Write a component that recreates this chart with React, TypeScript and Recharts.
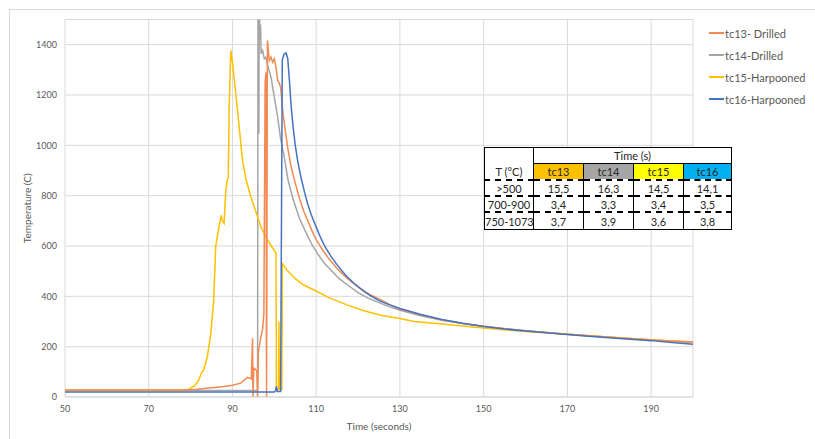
import React from 'react';
import { LineChart, Line, XAxis, YAxis, CartesianGrid, Legend } from 'recharts';

// ---- series data (time in seconds, temperature in °C) ----
const tc13Time = [50, 78, 81, 85, 88, 90, 92, 93.6, 94.5, 94.8, 94.9, 95.1, 95.8, 96.0, 96.2, 96.8, 97.2, 97.5, 97.8, 98.0, 98.15, 98.35, 98.8, 99.2, 99.6, 100, 100.4, 100.8, 101.1, 101.5, 102, 102.6, 103.3, 104, 105, 106, 107, 108, 109, 110, 111.5, 113, 115, 117.5, 120, 122.5, 125, 127.5, 130, 135, 140, 145, 150, 160, 170, 180, 190, 200];
const tc13Temp = [28, 28, 30, 37, 42, 47, 55, 78, 72, 233, 0, 115, 105, 0, 180, 240, 270, 330, 1250, 1290, 0, 1417, 1337, 1350, 1330, 1344, 1311, 1258, 1250, 1231, 1139, 1060, 980, 915, 850, 790, 740, 700, 660, 625, 585, 550, 510, 470, 438, 410, 390, 368, 350, 327, 307, 292, 281, 263, 249, 237, 226, 219];

const tc14Time = [50, 96.0, 96.1, 96.2, 96.3, 96.4, 96.55, 96.7, 96.85, 97.2, 97.6, 98.0, 98.4, 99.2, 100, 100.8, 101.5, 102.3, 103.3, 104.5, 106, 107.5, 109, 110.5, 112, 113.5, 115.5, 117.5, 120, 122.5, 125, 127.5, 130, 135, 140, 145, 150, 160, 170, 180, 190, 200];
const tc14Temp = [26, 26, 1600, 1600, 1046, 1600, 1420, 1480, 1364, 1377, 1344, 1350, 1317, 1271, 1192, 1112, 1025, 960, 860, 785, 710, 655, 605, 565, 530, 505, 470, 445, 415, 392, 375, 358, 345, 323, 305, 292, 281, 263, 249, 237, 226, 217];

const tc15Time = [50, 78, 79.5, 81, 82, 82.6, 83.2, 84, 84.8, 85.5, 86.0, 86.8, 87.3, 87.6, 88.0, 88.4, 88.8, 89.0, 89.2, 89.6, 90.0, 91.2, 92.4, 93.3, 94.4, 96.8, 98.4, 100.4, 100.5, 101.0, 101.1, 101.2, 101.8, 101.9, 103, 105, 107, 109.5, 113, 117.5, 121, 125.4, 130, 133.4, 140, 150, 160, 170, 180, 190, 200];
const tc15Temp = [28, 28, 30, 45, 70, 95, 110, 160, 250, 380, 600, 676, 722, 700, 690, 820, 865, 870, 1140, 1377, 1330, 1140, 940, 860, 795, 676, 623, 571, 30, 30, 300, 30, 30, 531, 505, 470, 445, 425, 395, 365, 345, 325, 312, 300, 290, 274, 260, 249, 238, 227, 219];

const tc16Time = [50, 100.0, 100.3, 100.5, 100.7, 101.5, 101.9, 102.3, 102.8, 103.2, 103.6, 104.0, 104.5, 105.0, 105.6, 106.4, 107.2, 108.0, 108.8, 110.0, 111.0, 112.0, 113.5, 115.0, 117.0, 119.0, 121.0, 123.0, 125.0, 127.5, 130, 135, 140, 145, 150, 155, 160, 165, 170, 175, 180, 185, 190, 195, 200];
const tc16Temp = [20, 20, 25, 42, 22, 22, 1340, 1362, 1367, 1345, 1258, 1160, 1070, 1000, 935, 870, 815, 765, 725, 675, 635, 600, 560, 525, 485, 452, 425, 402, 383, 366, 352, 328, 308, 293, 280, 270, 262, 255, 248, 241, 235, 229, 224, 217, 210];

// ---- axis ticks ----
const xTicks = [50, 70, 90, 110, 130, 150, 170, 190];
const yTicks = [0, 200, 400, 600, 800, 1000, 1200, 1400];

// ---- legend / series names ----
const seriesNames = ['tc13- Drilled', 'tc14-Drilled', 'tc15-Harpooned', 'tc16-Harpooned'];
const seriesColors = ['#F28A52', '#A5A5A5', '#FFC000', '#4472C4'];

// ---- inset table ----
const tableTitle = 'Time (s)';
const tableCorner = 'T (°C)';
const tableHeaders = ['tc13', 'tc14', 'tc15', 'tc16'];
const tableHeaderColors = ['#FFC000', '#A6A6A6', '#FFFF00', '#00B0F0'];
const tableRowLabels = ['>500', '700-900', '750-1073'];
const tableRow1 = ['15,5', '16,3', '14,5', '14,1'];
const tableRow2 = ['3,4', '3,3', '3,4', '3,5'];
const tableRow3 = ['3,7', '3,9', '3,6', '3,8'];

const zip = (ts: number[], vs: number[]) => ts.map((t, i) => ({ t, T: vs[i] }));
const seriesData = [zip(tc13Time, tc13Temp), zip(tc14Time, tc14Temp), zip(tc15Time, tc15Temp), zip(tc16Time, tc16Temp)];
const drawOrder = [1, 2, 0, 3];

const FONT = 'Lato, "Open Sans", sans-serif';
const TEXT = '#595959';

const renderLegend = (props: any) => {
  const payload: any[] = props.payload || [];
  const names = seriesNames.filter((n) => payload.some((p) => p.value === n));
  return (
    <div style={{ fontFamily: FONT, fontSize: 11, color: TEXT }}>
      {names.map((n) => (
        <div key={n} style={{ display: 'flex', alignItems: 'center', height: 22 }}>
          <div style={{ width: 15, height: 2, background: seriesColors[seriesNames.indexOf(n)], marginRight: 1, flex: 'none' }} />
          <span style={{ fontSize: 11 }}>{n}</span>
        </div>
      ))}
    </div>
  );
};

const cellBase: React.CSSProperties = { padding: 0, textAlign: 'center', lineHeight: '13px', overflow: 'hidden', whiteSpace: 'nowrap', fontSize: 11, fontFamily: FONT, color: '#262626' };
const dashed = '2px dashed #000';
const solid = '1px solid #000';

const InsetTable = () => {
  const rows = [tableRow1, tableRow2, tableRow3];
  return (
    <table
      style={{
        position: 'absolute', left: 484, top: 147, width: 247, height: 82,
        borderCollapse: 'collapse', tableLayout: 'fixed', background: '#fff',
        border: '1.5px solid #000', fontFamily: FONT, fontSize: 11, color: '#262626',
      }}
    >
      <colgroup>
        <col style={{ width: 49 }} />
        <col style={{ width: 50 }} />
        <col style={{ width: 50 }} />
        <col style={{ width: 50 }} />
        <col style={{ width: 48 }} />
      </colgroup>
      <tbody>
        <tr style={{ height: 16 }}>
          <td rowSpan={2} style={{ ...cellBase, verticalAlign: 'bottom', paddingBottom: 1, borderRight: '1.5px solid #000', borderBottom: dashed }}>{tableCorner}</td>
          <td colSpan={4} style={{ ...cellBase, borderBottom: solid }}>{tableTitle}</td>
        </tr>
        <tr style={{ height: 16.5 }}>
          {tableHeaders.map((h, i) => (
            <td key={h} style={{ ...cellBase, background: tableHeaderColors[i], borderLeft: solid, borderRight: solid, borderBottom: dashed }}>{h}</td>
          ))}
        </tr>
        {rows.map((r, ri) => (
          <tr key={ri} style={{ height: ri === 2 ? 17.5 : 16 }}>
            <td style={{ ...cellBase, borderRight: '1.5px solid #000', borderBottom: ri < 2 ? dashed : undefined }}>{tableRowLabels[ri]}</td>
            {r.map((v, ci) => (
              <td key={ci} style={{ ...cellBase, borderLeft: solid, borderBottom: ri < 2 ? dashed : undefined }}>{v}</td>
            ))}
          </tr>
        ))}
      </tbody>
    </table>
  );
};

export default function App() {
  return (
    <div style={{ position: 'absolute', left: 0, top: 0, width: 815, height: 439, background: '#fff', overflow: 'hidden' }}>
      <div style={{ position: 'absolute', left: 9, top: 9, width: 820, height: 450, border: '1px solid #D9D9D9', boxSizing: 'border-box' }} />
      <div style={{ position: 'absolute', left: 0, top: 0 }}>
        <LineChart width={815} height={439} margin={{ top: 19.5, right: 122, bottom: 0, left: 0 }}>
          <CartesianGrid stroke="#D9D9D9" strokeWidth={1} />
          <XAxis
            type="number"
            dataKey="t"
            domain={[50, 200]}
            ticks={xTicks}
            allowDataOverflow
            height={42}
            tickLine={false}
            axisLine={{ stroke: '#D9D9D9' }}
            tickMargin={3}
            tick={{ fontSize: 9, fill: TEXT, fontFamily: FONT }}
            label={{ value: 'Time (seconds)', position: 'center', dy: 8, style: { fontSize: 10, fill: TEXT, fontFamily: FONT } }}
          />
          <YAxis
            type="number"
            domain={[0, 1500]}
            ticks={yTicks}
            allowDataOverflow
            width={65}
            tickLine={false}
            axisLine={false}
            tick={{ fontSize: 9, fill: TEXT, fontFamily: FONT }}
            label={{ value: 'Temperature (C)', angle: -90, position: 'center', dx: -5, style: { fontSize: 10, fill: TEXT, fontFamily: FONT, textAnchor: 'middle' } }}
          />
          <Legend
            layout="vertical"
            align="center"
            verticalAlign="middle"
            wrapperStyle={{ left: 709, top: 22, width: 110 }}
            content={renderLegend}
          />
          {drawOrder.map((i) => (
            <Line
              key={seriesNames[i]}
              data={seriesData[i]}
              dataKey="T"
              name={seriesNames[i]}
              type="linear"
              stroke={seriesColors[i]}
              strokeWidth={1.5}
              dot={false}
              activeDot={false}
              isAnimationActive={false}
            />
          ))}
        </LineChart>
      </div>
      <InsetTable />
    </div>
  );
}
